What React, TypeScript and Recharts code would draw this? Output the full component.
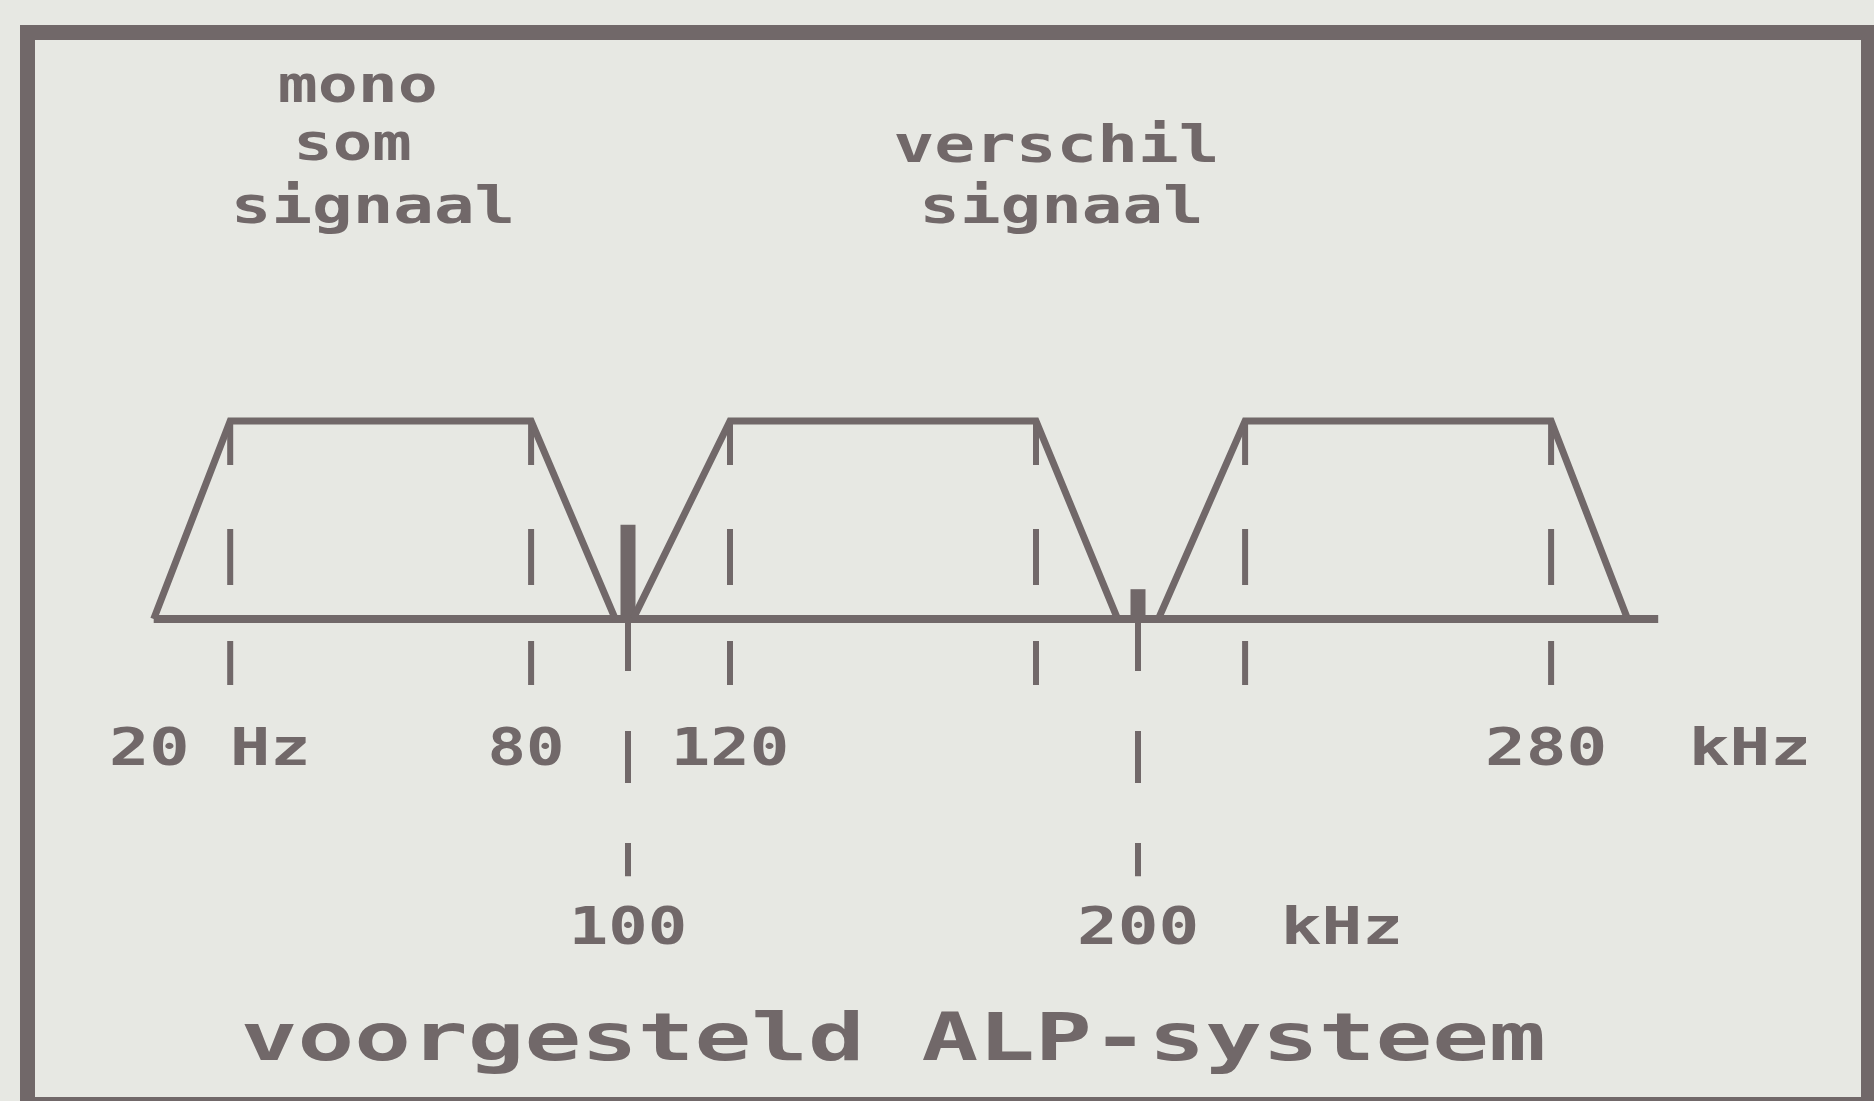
import React from 'react';
import { ComposedChart, Line, XAxis, YAxis, ReferenceLine, ReferenceDot } from 'recharts';

const INK = '#716869';
const PAPER = '#e7e8e3';
const FONT = '"DejaVu Sans Mono", "Liberation Mono", monospace';

// spectrum: frequency in kHz along x, relative level up
const baseF = [7, 302];
const monoF = [7, 22, 81, 97.5];
const lsbF = [101, 120, 180, 196];
const usbF = [204, 221, 281, 296];
const bandLevel = [0, 1, 1, 0];

const edgeF = [22, 81, 120, 180, 221, 281];
const carrierF = [100, 200];
const carrierLevel = [0.475, 0.15];

// labels
const row1Text = ['20 Hz', '80', '120', '280  kHz'];
const row1F = [18, 80, 120, 300];
const row2Text = ['100', '200  kHz'];
const row2F = [100, 220];
const noteText = ['mono', 'som', 'signaal', 'verschil', 'signaal'];
const noteF = [47, 46, 50, 184, 185];
const noteLevel = [2.61, 2.32, 2.0, 2.31, 2.0];
const title = 'voorgesteld ALP-systeem';

const ROW1 = -0.737;
const ROW2 = -1.64;
const TITLE_Y = -2.23;

const pts = (fs: number[]) => fs.map((f, i) => ({ f, level: bandLevel[i] }));

const word = (txt: string, size: number, adv: number) => (p: any) => (
  <text
    x={p.cx}
    y={p.cy}
    textAnchor="middle"
    fontFamily={FONT}
    fontWeight="bold"
    fontSize={size}
    fill={INK}
    xmlSpace="preserve"
    style={{ whiteSpace: 'pre' }}
    textLength={txt.length * adv - 6}
    lengthAdjust="spacingAndGlyphs"
  >
    {txt}
  </text>
);

export default function App() {
  const band = { type: 'linear' as const, dataKey: 'level', stroke: INK, strokeWidth: 7, dot: false, isAnimationActive: false };
  return (
    <div style={{ position: 'absolute', left: 0, top: 0, width: 1874, height: 1101, overflow: 'hidden', background: PAPER }}>
      <div style={{ position: 'absolute', left: 20, top: 25, width: 1856, height: 1087, border: `15px solid ${INK}`, boxSizing: 'border-box' }} />
      <div style={{ position: 'absolute', left: 0, top: 0 }}>
        <ComposedChart width={1874} height={1101} margin={{ top: 25, right: 22, bottom: 7, left: 118 }}>
          <XAxis type="number" dataKey="f" domain={[0, 340]} hide />
          <YAxis type="number" domain={[-2.4, 3]} hide />

          {edgeF.map(f => (
            <ReferenceLine key={'e' + f} segment={[{ x: f, y: 1 }, { x: f, y: -0.39 }]} stroke={INK} strokeWidth={6} strokeDasharray="44 64 56 56" />
          ))}
          {carrierF.map((f, i) => (
            <ReferenceLine key={'c' + f} segment={[{ x: f, y: 0 }, { x: f, y: carrierLevel[i] }]} stroke={INK} strokeWidth={15} />
          ))}
          {carrierF.map(f => (
            <ReferenceLine key={'d' + f} segment={[{ x: f, y: 0 }, { x: f, y: -1.3 }]} stroke={INK} strokeWidth={6} strokeDasharray="52 60" />
          ))}

          <Line {...band} data={baseF.map(f => ({ f, level: 0 }))} strokeWidth={8} />
          <Line {...band} data={pts(monoF)} />
          <Line {...band} data={pts(lsbF)} />
          <Line {...band} data={pts(usbF)} />

          {noteText.map((t, i) => (
            <ReferenceDot key={'n' + i} x={noteF[i]} y={noteLevel[i]} r={0} shape={word(t, 52, 41.5)} />
          ))}
          {row1Text.map((t, i) => (
            <ReferenceDot key={'a' + i} x={row1F[i]} y={ROW1} r={0} shape={word(t, 52, 41.5)} />
          ))}
          {row2Text.map((t, i) => (
            <ReferenceDot key={'b' + i} x={row2F[i]} y={ROW2} r={0} shape={word(t, 52, 41.5)} />
          ))}
          <ReferenceDot x={152} y={TITLE_Y} r={0} shape={word(title, 66, 57)} />
        </ComposedChart>
      </div>
    </div>
  );
}
